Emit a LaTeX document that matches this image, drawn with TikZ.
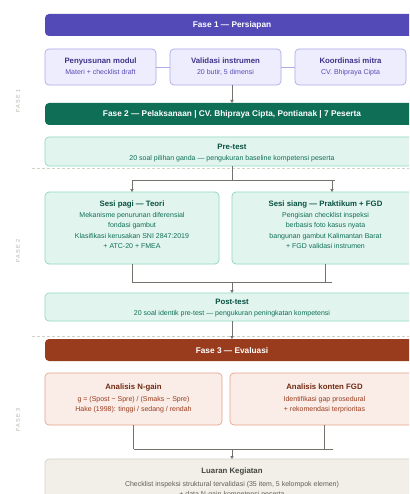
\documentclass[tikz,border=0pt]{standalone}
\usepackage{fontspec}
\setmainfont{Liberation Sans}
\newfontfamily\lblfont[LetterSpace=20]{Liberation Sans}
\usetikzlibrary{arrows.meta}
\definecolor{pHead}{HTML}{534AB7}
\definecolor{pFill}{HTML}{EEEDFE}
\definecolor{pLine}{HTML}{AFA9EC}
\definecolor{pTitle}{HTML}{3C3489}
\definecolor{pSub}{HTML}{534AB7}
\definecolor{gHead}{HTML}{0F6E56}
\definecolor{gFill}{HTML}{E1F5EE}
\definecolor{gLine}{HTML}{8FD9BE}
\definecolor{gTitle}{HTML}{085041}
\definecolor{gSub}{HTML}{0F6E56}
\definecolor{cHead}{HTML}{993C1D}
\definecolor{cFill}{HTML}{FAECE7}
\definecolor{cLine}{HTML}{E8A48C}
\definecolor{cTitle}{HTML}{712B13}
\definecolor{cSub}{HTML}{993C1D}
\definecolor{nFill}{HTML}{F1EFE8}
\definecolor{nLine}{HTML}{D3D1C7}
\definecolor{nTitle}{HTML}{444441}
\definecolor{nSub}{HTML}{5F5E5A}
\definecolor{conC}{HTML}{73726C}
\definecolor{sepC}{HTML}{D3D1C7}
\definecolor{lblC}{HTML}{B4B2A9}
\begin{document}
\begin{tikzpicture}[x=1pt,y=-1pt,
  every node/.style={inner sep=0pt, outer sep=0pt},
  boxbase/.style={draw, rounded corners=4pt, line width=0.7pt},
  hdr/.style={rounded corners=4pt, minimum width=374pt, minimum height=22pt},
  pbox/.style={boxbase, draw=pLine, fill=pFill},
  gbox/.style={boxbase, draw=gLine, fill=gFill},
  cbox/.style={boxbase, draw=cLine, fill=cFill},
  nbox/.style={boxbase, draw=nLine, fill=nFill},
  htxt/.style={anchor=base, text=white, font=\fontsize{8.3}{10}\selectfont\bfseries},
  ttl/.style={anchor=base, font=\fontsize{7.8}{9}\selectfont\bfseries},
  sub/.style={anchor=base, font=\fontsize{7}{8}\selectfont},
  conn/.style={draw=conC, line width=0.7pt},
  arr/.style={conn, -{Triangle[length=3pt,width=3.2pt]}},
  sep/.style={draw=sepC, line width=0.5pt, dash pattern=on 2.5pt off 2.5pt},
  phase/.style={rotate=90, text=lblC, font=\lblfont\fontsize{5.5}{6}\selectfont}
]
\clip (0,0) rectangle (409,494);
\fill[white] (0,0) rectangle (409,494);

% phase labels and separators
\node[phase] (lab1) at (18,101) {FASE 1};
\node[phase] (lab2) at (18,251) {FASE 2};
\node[phase] (lab3) at (18,420) {FASE 3};
\coordinate (s1a) at (32,168); \coordinate (s1b) at (430,168);
\coordinate (s2a) at (32,336); \coordinate (s2b) at (430,336);
\draw[sep] (s1a) -- (s1b);
\draw[sep] (s2a) -- (s2b);

% ---------- Fase 1
\node[hdr, fill=pHead] (f1) at (232,25) {};
\node[htxt] (f1t) at (232,28) {Fase 1 — Persiapan};

\node[pbox, minimum width=111pt, minimum height=36pt] (b1) at (100.5,67) {};
\node[pbox, minimum width=111pt, minimum height=36pt] (b2) at (225.5,67) {};
\node[pbox, minimum width=111pt, minimum height=36pt] (b3) at (350.5,67) {};
\draw[draw=pLine, line width=0.8pt] (b1.east) -- (b2.west);
\draw[draw=pLine, line width=0.8pt] (b2.east) -- (b3.west);
\node[ttl, text=pTitle] (b1t) at (100.5,63.8) {Penyusunan modul};
\node[sub, text=pSub] (b1s) at (100.5,74.5) {Materi + checklist draft};
\node[ttl, text=pTitle] (b2t) at (225.5,63.8) {Validasi instrumen};
\node[sub, text=pSub] (b2s) at (225.5,74.5) {20 butir, 5 dimensi};
\node[ttl, text=pTitle] (b3t) at (350.5,63.8) {Koordinasi mitra};
\node[sub, text=pSub] (b3s) at (350.5,74.5) {CV. Bhipraya Cipta};

% ---------- Fase 2
\node[hdr, fill=gHead] (f2) at (232,114) {};
\node[htxt] (f2t) at (232,117) {Fase 2 — Pelaksanaan | CV. Bhipraya Cipta, Pontianak | 7 Peserta};
\draw[arr] (f1.center |- b2.south) -- (f2.north);

\node[gbox, minimum width=374pt, minimum height=29pt] (pre) at (232,151.5) {};
\node[ttl, text=gTitle] (pret) at (232,149.8) {Pre-test};
\node[sub, text=gSub] (pres) at (232,160.2) {20 soal pilihan ganda — pengukuran baseline kompetensi peserta};

\node[gbox, minimum width=174pt, minimum height=72pt] (pagi) at (132,228) {};
\node[gbox, minimum width=187pt, minimum height=72pt] (siang) at (325.5,228) {};
\node[ttl, text=gTitle] (pagit) at (132,206.5) {Sesi pagi — Teori};
\node[sub, text=gSub] (pagi1) at (132,217.5) {Mekanisme penurunan diferensial};
\node[sub, text=gSub] (pagi2) at (132,227.8) {fondasi gambut};
\node[sub, text=gSub] (pagi3) at (132,238.1) {Klasifikasi kerusakan SNI 2847:2019};
\node[sub, text=gSub] (pagi4) at (132,248.4) {+ ATC-20 + FMEA};
\node[ttl, text=gTitle] (siangt) at (325.5,206.5) {Sesi siang — Praktikum + FGD};
\node[sub, text=gSub] (siang1) at (325.5,217.5) {Pengisian checklist inspeksi};
\node[sub, text=gSub] (siang2) at (325.5,227.8) {berbasis foto kasus nyata};
\node[sub, text=gSub] (siang3) at (325.5,238.1) {bangunan gambut Kalimantan Barat};
\node[sub, text=gSub] (siang4) at (325.5,248.4) {+ FGD validasi instrumen};

\coordinate (j1) at (232,180);
\coordinate (j1l) at (132,180);
\coordinate (j1r) at (332,180);
\coordinate (j1e) at (335,180);
\draw[conn] (pre.south) -- (j1);
\draw[conn] (j1l) -- (j1e);
\draw[arr] (j1l) -- (pagi.north);
\draw[arr] (j1r) -- (j1r |- siang.north);

\node[gbox, minimum width=374pt, minimum height=28pt] (post) at (232,307) {};
\node[ttl, text=gTitle] (postt) at (232,304.5) {Post-test};
\node[sub, text=gSub] (posts) at (232,315.2) {20 soal identik pre-test — pengukuran peningkatan kompetensi};

\coordinate (j2) at (232,282);
\coordinate (j2l) at (132,282);
\coordinate (j2r) at (332,282);
\draw[conn] (pagi.south) -- (j2l);
\draw[conn] (siang.south) -- (siang.south |- j2);
\draw[conn] (j2l) -- (j2r);
\draw[arr] (j2) -- (post.north);

% ---------- Fase 3
\node[hdr, fill=cHead] (f3) at (232,350) {};
\node[htxt] (f3t) at (232,353) {Fase 3 — Evaluasi};
\draw[arr] (post.south) -- (f3.north);

\node[cbox, minimum width=177pt, minimum height=52pt] (ng) at (133.5,399) {};
\node[cbox, minimum width=189pt, minimum height=52pt] (fgd) at (324.5,399) {};
\node[ttl, text=cTitle] (ngt) at (133.5,389) {Analisis N-gain};
\node[sub, text=cSub] (ng1) at (133.5,401.2) {g = (Spost − Spre) / (Smaks − Spre)};
\node[sub, text=cSub] (ng2) at (133.5,411.8) {Hake (1998): tinggi / sedang / rendah};
\node[ttl, text=cTitle] (fgdt) at (324.5,389) {Analisis konten FGD};
\node[sub, text=cSub] (fgd1) at (324.5,401.2) {Identifikasi gap prosedural};
\node[sub, text=cSub] (fgd2) at (324.5,411.8) {+ rekomendasi terprioritas};

\node[nbox, minimum width=374pt, minimum height=51pt] (out) at (232,484.5) {};
\node[ttl, text=nTitle] (outt) at (232,473.8) {Luaran Kegiatan};
\node[sub, text=nSub] (out1) at (232,486.5) {Checklist inspeksi struktural tervalidasi (35 item, 5 kelompok elemen)};
\node[sub, text=nSub] (out2) at (232,496.5) {+ data N-gain kompetensi peserta};

\coordinate (j3) at (232,449);
\coordinate (j3l) at (134,449);
\coordinate (j3r) at (333,449);
\draw[conn] (ng.south) -- (ng.south |- j3);
\draw[conn] (fgd.south) -- (fgd.south |- j3);
\draw[conn] (ng.south |- j3) -- (j3r);
\draw[arr] (j3) -- (out.north);
\end{tikzpicture}
\end{document}
